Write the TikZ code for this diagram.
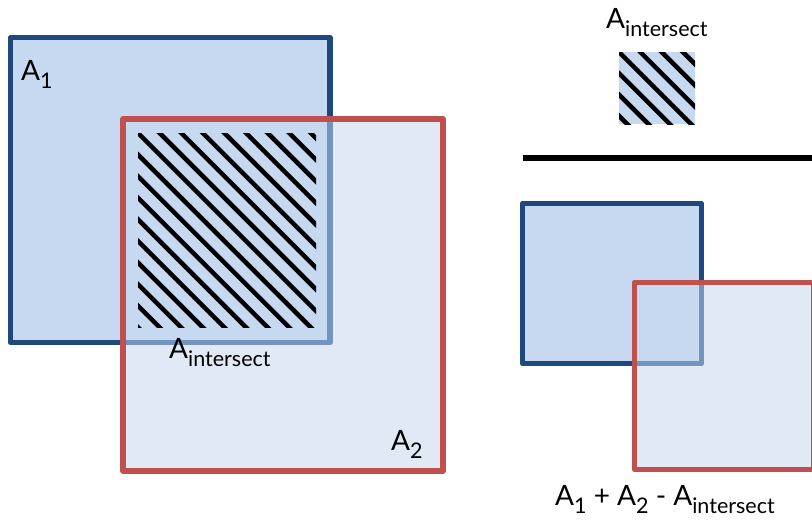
\documentclass[tikz,border=0pt]{standalone}
\usepackage{fontspec}
\setmainfont{Lato}
\definecolor{boxblue}{HTML}{1F497D}
\definecolor{boxred}{HTML}{C0504D}
\definecolor{fillblue}{HTML}{C6D9F0}
\definecolor{filllight}{HTML}{E1E9F5}
\definecolor{fadeblue}{HTML}{7394BD}
\newcommand\lowsub[1]{\raisebox{-0.32em}{\fontsize{21.5}{21.5}\selectfont #1}}
\tikzset{
  border/.style={line width=5.5},
  hatchline/.style={black,line width=4.5},
  label/.style={anchor=base west,inner sep=0pt}
}
\begin{document}
\begin{tikzpicture}[x=1pt,y=-1pt,line join=round,font=\fontsize{28}{28}\selectfont]
	\useasboundingbox (0,0) rectangle (812,520);
	% left: the two areas
	\def\firstsquare{(10.5,37.5) rectangle (330,342.5)}
	\def\secondsquare{(123,119) rectangle (443,471)}
	\fill[fillblue] \firstsquare;
	\draw[boxblue,border] \firstsquare;
	\fill[filllight] \secondsquare;
	\begin{scope}
		\clip \secondsquare;
		\fill[fillblue] \firstsquare;
		\draw[fadeblue,border] \firstsquare;
	\end{scope}
	\draw[boxred,border] \secondsquare;
	\begin{scope}
		\clip (138,133) rectangle (316,327);
		\foreach \k in {-10,...,10}
			\draw[hatchline] ({138+21.6*\k-200},-67) -- ++(600,600);
	\end{scope}
	\node[label] (aone) at (21,80) {A\lowsub{1}};
	\node[label] (ameet) at (169,358) {A\lowsub{intersect}};
	\node[label] (atwo) at (391,450) {A\lowsub{2}};
	% right: the small hatch over the sum
	\node[label] (ameettop) at (606,28) {A\lowsub{intersect}};
	\begin{scope}
		\clip (619,52) rectangle (695,124);
		\fill[fillblue] (619,52) rectangle (695,124);
		\foreach \k in {-5,...,5}
			\draw[hatchline] ({619+21.3*\k-100},-48) -- ++(300,300);
	\end{scope}
	\draw[line width=5.5] (523,158) -- (815,158);
	\def\thirdsquare{(522.5,203.5) rectangle (701.5,363.5)}
	\def\fourthsquare{(634.5,282.5) rectangle (814,469.5)}
	\fill[fillblue] \thirdsquare;
	\draw[boxblue,border] \thirdsquare;
	\fill[filllight] \fourthsquare;
	\begin{scope}
		\clip \fourthsquare;
		\fill[fillblue] \thirdsquare;
		\draw[fadeblue,border] \thirdsquare;
	\end{scope}
	\draw[boxred,border] \fourthsquare;
	\node[label] (asum) at (555,505) {A\lowsub{1} + A\lowsub{2} - A\lowsub{intersect}};
\end{tikzpicture}
\end{document}
